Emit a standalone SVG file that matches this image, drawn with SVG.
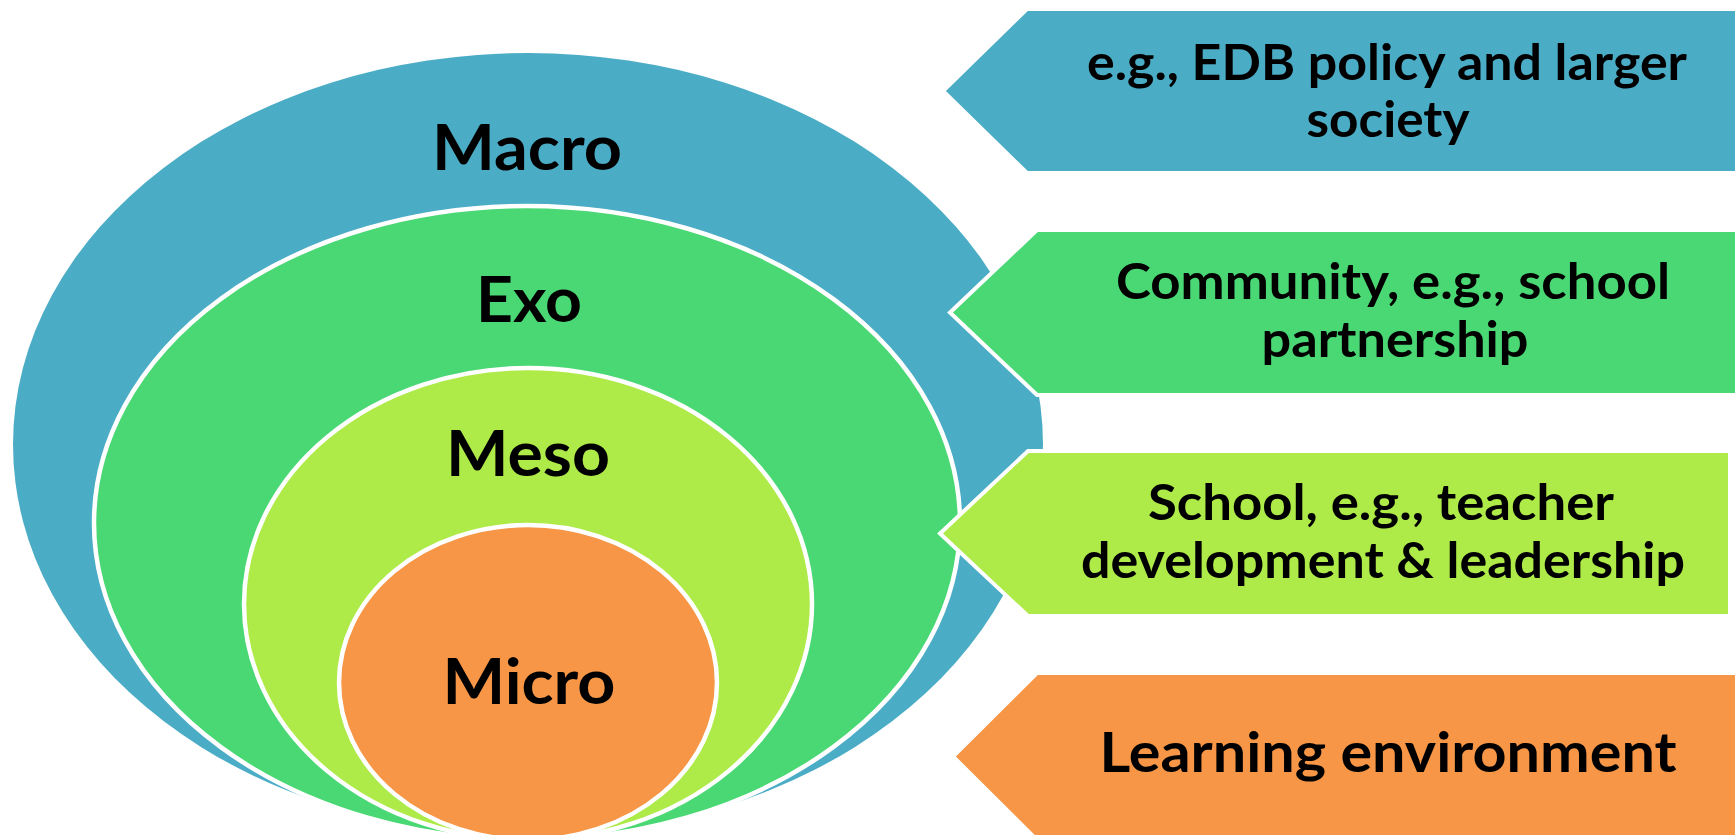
<svg xmlns="http://www.w3.org/2000/svg" width="1735" height="835" viewBox="0 0 1735 835">
  <style>
    .ring { stroke: #ffffff; stroke-width: 4.5; }
    .tag { stroke: #ffffff; stroke-width: 4; stroke-linejoin: miter; }
    .lbl { font-family: Lato, "Liberation Sans", "DejaVu Sans", sans-serif; font-weight: 700; fill: #000000; text-anchor: middle; }
    .big { font-size: 63px; }
    .note { font-size: 49px; }
    .note-lg { font-size: 55px; }
    .macro { fill: #4BACC6; }
    .exo { fill: #4AD875; }
    .meso { fill: #AEEA48; }
    .micro { fill: #F79646; }
  </style>

  <rect width="1735" height="835" fill="#ffffff"/>

  <!-- stacked layers, outermost first -->
  <g id="macro">
    <ellipse class="macro" cx="528" cy="444.5" rx="515" ry="391.5"/>
    <text class="lbl big" x="527" y="170" textLength="190" lengthAdjust="spacingAndGlyphs">Macro</text>
  </g>
  <g id="exo">
    <ellipse class="exo ring" cx="527" cy="523" rx="433" ry="317"/>
    <text class="lbl big" x="529" y="322" textLength="106" lengthAdjust="spacingAndGlyphs">Exo</text>
  </g>
  <g id="meso">
    <ellipse class="meso ring" cx="528" cy="604" rx="284" ry="236"/>
    <text class="lbl big" x="528" y="476" textLength="164" lengthAdjust="spacingAndGlyphs">Meso</text>
  </g>
  <g id="micro">
    <ellipse class="micro ring" cx="528" cy="682.5" rx="189" ry="157.5"/>
    <text class="lbl big" x="529" y="704" textLength="173" lengthAdjust="spacingAndGlyphs">Micro</text>
  </g>

  <!-- pointer tags on the right -->
  <g id="tag-macro">
    <polygon class="macro tag" points="1027,9 1737,9 1737,173 1027,173 943,91"/>
    <text class="lbl note" x="1387" y="80" textLength="600" lengthAdjust="spacingAndGlyphs">e.g., EDB policy and larger</text>
    <text class="lbl note" x="1388" y="137" textLength="163" lengthAdjust="spacingAndGlyphs">society</text>
  </g>
  <g id="tag-exo">
    <polygon class="exo tag" points="1037,230 1737,230 1737,395 1037,395 950,312.5"/>
    <text class="lbl note" x="1393" y="299" textLength="554" lengthAdjust="spacingAndGlyphs">Community, e.g., school</text>
    <text class="lbl note" x="1395" y="357" textLength="267" lengthAdjust="spacingAndGlyphs">partnership</text>
  </g>
  <g id="tag-meso">
    <polygon class="meso tag" points="1028,451 1730,451 1730,616 1028,616 940,533.5"/>
    <text class="lbl note" x="1381" y="520" textLength="466" lengthAdjust="spacingAndGlyphs">School, e.g., teacher</text>
    <text class="lbl note" x="1383" y="578" textLength="604" lengthAdjust="spacingAndGlyphs">development &amp; leadership</text>
  </g>
  <g id="tag-micro">
    <polygon class="micro tag" points="1037,673 1737,673 1737,840 1037,840 953,756.5"/>
    <text class="lbl note-lg" x="1388" y="772" textLength="577" lengthAdjust="spacingAndGlyphs">Learning environment</text>
  </g>
</svg>
